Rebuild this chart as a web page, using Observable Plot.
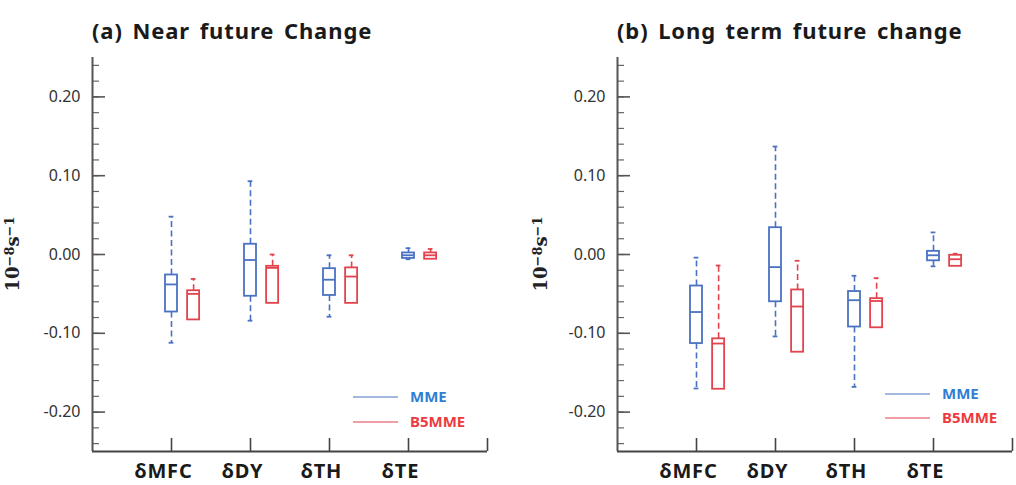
<!DOCTYPE html>
<html><head><meta charset="utf-8">
<script src="https://cdn.jsdelivr.net/npm/d3@7"></script>
<script src="https://cdn.jsdelivr.net/npm/@observablehq/plot@0.6"></script>
<style>
html,body{margin:0;padding:0;background:#fff;overflow:hidden}
#wrap{display:flex;width:1016px;height:485px}
</style></head><body><div id="wrap"></div>
<script>
const categories = ["δMFC", "δDY", "δTH", "δTE"];
const seriesNames = ["MME", "B5MME"];
const titles = ["(a) Near future Change", "(b) Long term future change"];
const yTicks = [-0.2, -0.1, 0, 0.1, 0.2];
const yUnit = ["10", "−8", "s", "−1"];

// Panel (a) near future change: whisker high, upper quartile, median, lower quartile, whisker low
const aMMEhi  = [0.048, 0.093, -0.001, 0.008];
const aMMEq3  = [-0.026, 0.013, -0.018, 0.002];
const aMMEmed = [-0.038, -0.007, -0.032, -0.001];
const aMMEq1  = [-0.073, -0.053, -0.052, -0.005];
const aMMElo  = [-0.112, -0.084, -0.079, -0.006];
const aB5hi   = [-0.031, 0.000, -0.001, 0.007];
const aB5q3   = [-0.046, -0.015, -0.017, 0.002];
const aB5med  = [-0.050, -0.017, -0.028, -0.001];
const aB5q1   = [-0.083, -0.062, -0.062, -0.006];
const aB5lo   = [-0.083, -0.062, -0.062, -0.006];

// Panel (b) long term future change
const bMMEhi  = [-0.004, 0.137, -0.027, 0.028];
const bMMEq3  = [-0.040, 0.034, -0.047, 0.004];
const bMMEmed = [-0.073, -0.016, -0.058, -0.001];
const bMMEq1  = [-0.113, -0.060, -0.092, -0.008];
const bMMElo  = [-0.170, -0.104, -0.168, -0.015];
const bB5hi   = [-0.014, -0.008, -0.030, 0.001];
const bB5q3   = [-0.107, -0.045, -0.056, -0.001];
const bB5med  = [-0.113, -0.066, -0.059, -0.006];
const bB5q1   = [-0.171, -0.124, -0.093, -0.015];
const bB5lo   = [-0.171, -0.124, -0.093, -0.015];

const colors = {MME: "#4a72c2", B5MME: "#e2434c"};
const legendColors = {MME: "#2f7ed3", B5MME: "#ec3b3f"};
const FONT = "'Noto Sans', 'Open Sans', sans-serif";

function rowsFor(sets) {
  const rows = [];
  sets.forEach((s, si) => {
    categories.forEach((c, i) => {
      rows.push({cat: c, series: seriesNames[si], pos: i + 1 + si * 0.28,
        hi: s.hi[i], q3: s.q3[i], med: s.med[i], q1: s.q1[i], lo: s.lo[i]});
    });
  });
  return rows;
}

const panels = [
  {title: titles[0], rows: rowsFor([
    {hi: aMMEhi, q3: aMMEq3, med: aMMEmed, q1: aMMEq1, lo: aMMElo},
    {hi: aB5hi, q3: aB5q3, med: aB5med, q1: aB5q1, lo: aB5lo}]),
   ml: 92, mr: 21, unitX: 19, leg: {x1: -134, x2: -89, tx: -77, y: [-54, -29]}},
  {title: titles[1], rows: rowsFor([
    {hi: bMMEhi, q3: bMMEq3, med: bMMEmed, q1: bMMEq1, lo: bMMElo},
    {hi: bB5hi, q3: bB5q3, med: bB5med, q1: bB5q1, lo: bB5lo}]),
   ml: 109, mr: 4, unitX: 39, leg: {x1: -127, x2: -82, tx: -70, y: [-57, -33]}}
];

const hw = 0.076, cw = 0.03;
const minorTicks = d3.range(-12, 13).map(k => k * 0.02);

panels.forEach(p => {
  const W = 508, H = 485, mt = 57, mb = 34;
  const stroke = d => colors[d.series];
  const chart = Plot.plot({
    width: W, height: H, marginLeft: p.ml, marginRight: p.mr, marginTop: mt, marginBottom: mb,
    style: {fontFamily: FONT, overflow: "visible", background: "white"},
    x: {domain: [0, 5]},
    y: {domain: [-0.25, 0.25]},
    marks: [
      // axes (ticks drawn inward)
      Plot.axisY(minorTicks, {tickSize: 7, dx: 7, fill: "none", stroke: "#666", strokeWidth: 1.2, label: null}),
      Plot.axisY(yTicks, {tickSize: 13, dx: 13, fill: "none", stroke: "#555", strokeWidth: 1.6, label: null}),
      Plot.axisY(yTicks, {tickSize: 0, tickPadding: 12, tickFormat: d => d.toFixed(2), fontSize: 16, fill: "#333", label: null}),
      Plot.axisX([1, 2, 3, 4, 5], {tickSize: 13, dy: -13, fill: "none", stroke: "#444", strokeWidth: 1.6, label: null}),
      Plot.ruleX([0], {stroke: "#555", strokeWidth: 2}),
      Plot.ruleY([-0.25], {stroke: "#444", strokeWidth: 2}),
      // whiskers
      Plot.ruleX(p.rows.filter(d => d.hi > d.q3), {x: "pos", y1: "q3", y2: "hi", stroke, strokeWidth: 1.6, strokeDasharray: "6,3.5"}),
      Plot.ruleX(p.rows.filter(d => d.lo < d.q1), {x: "pos", y1: "q1", y2: "lo", stroke, strokeWidth: 1.6, strokeDasharray: "6,3.5"}),
      Plot.ruleY(p.rows.filter(d => d.hi > d.q3), {y: "hi", x1: d => d.pos - cw, x2: d => d.pos + cw, stroke, strokeWidth: 1.8}),
      Plot.ruleY(p.rows.filter(d => d.lo < d.q1), {y: "lo", x1: d => d.pos - cw, x2: d => d.pos + cw, stroke, strokeWidth: 1.8}),
      // boxes
      Plot.rect(p.rows, {x1: d => d.pos - hw, x2: d => d.pos + hw, y1: "q1", y2: "q3", fill: "white", stroke, strokeWidth: 1.8}),
      Plot.ruleY(p.rows, {y: "med", x1: d => d.pos - hw, x2: d => d.pos + hw, stroke, strokeWidth: 1.8}),
      // category labels
      Plot.text(categories, {x: (d, i) => i + 1, text: d => d, frameAnchor: "bottom", dy: 26, dx: -8,
        fontSize: 20, fontWeight: "bold", fill: "#1a1a1a"})
    ]
  });
  const svg = d3.select(chart);
  svg.selectAll("g[aria-label='text'] text").attr("letter-spacing", "0.8px");
  // title
  svg.append("text").attr("x", p.ml).attr("y", 39).attr("text-anchor", "start")
    .attr("font-family", FONT).attr("font-size", 22).attr("font-weight", "bold")
    .attr("letter-spacing", "0.9px").attr("word-spacing", "3px").attr("fill", "#1a1a1a").text(p.title);
  // unit label (baseline at unitX, rotated)
  const ut = svg.append("text").attr("transform", `translate(${p.unitX},254) rotate(-90)`)
    .attr("text-anchor", "middle")
    .attr("font-family", "'DejaVu Serif', serif").attr("font-weight", "bold").attr("fill", "#222");
  ut.append("tspan").attr("font-size", 18).text(yUnit[0]);
  ut.append("tspan").attr("font-size", 13).attr("dy", -5).text(yUnit[1]);
  ut.append("tspan").attr("font-size", 18).attr("dy", 5).text(yUnit[2]);
  ut.append("tspan").attr("font-size", 13).attr("dy", -5).text(yUnit[3]);
  // legend (pixel positions relative to frame bottom-right)
  const fr = W - p.mr, fb = H - mb;
  const g = svg.append("g").attr("font-family", FONT);
  seriesNames.forEach((s, i) => {
    const y = fb + p.leg.y[i];
    g.append("line").attr("x1", fr + p.leg.x1).attr("x2", fr + p.leg.x2).attr("y1", y).attr("y2", y)
      .attr("stroke", colors[s]).attr("stroke-width", 1.2);
    g.append("text").attr("x", fr + p.leg.tx).attr("y", y).attr("dy", "0.35em").attr("text-anchor", "start")
      .attr("font-size", 15).attr("font-weight", "bold").attr("fill", legendColors[s]).text(s);
  });
  document.getElementById("wrap").appendChild(chart);
});
</script>
</body></html>
